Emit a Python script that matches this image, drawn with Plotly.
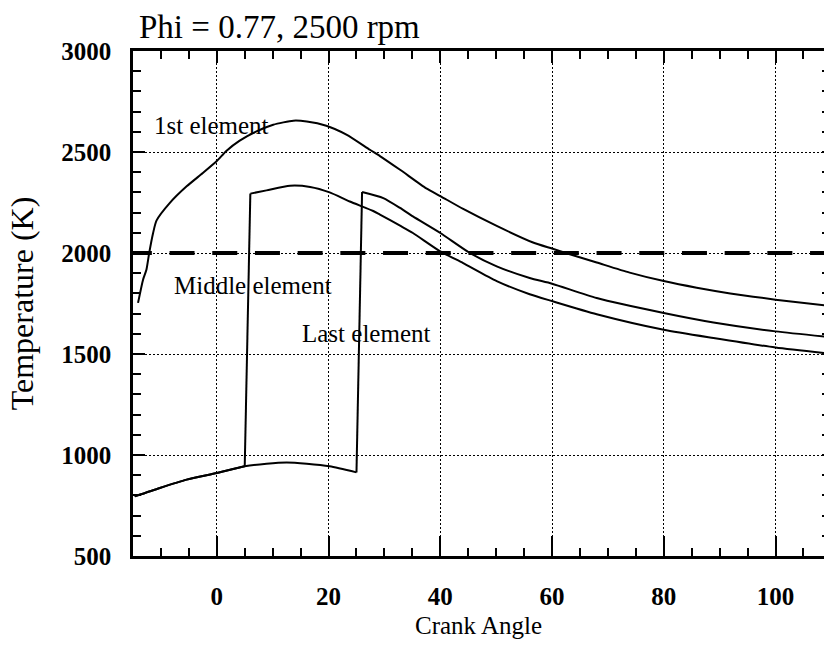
import plotly.graph_objects as go

# ---------------- data ----------------
first_x = [-14.1, -13.2, -12.6, -12.1, -11.4, -10.8, -8.4, -5.4, -2.5, 0, 1.7, 4.1, 7.1, 10.1,
           13.7, 16.1, 19.6, 23.2, 27.4, 29.2, 32.8, 37.5, 40, 44.1, 50.1, 56.6, 60, 62.6, 68,
           73.9, 80, 85.9, 91.9, 100, 108.7]
first_T = [1753, 1868, 1917, 2000, 2099, 2160, 2248, 2330, 2396, 2455, 2505, 2556, 2602, 2635,
           2655, 2651, 2630, 2586, 2511, 2480, 2412, 2320, 2282, 2218, 2134, 2052, 2022, 1999, 1953,
           1903, 1861, 1828, 1800, 1769, 1741]

mid_x = [-14.7, -10.2, -5.4, 0, 5.0, 6.0, 8.9, 13.1, 16.7, 20.2, 23.8, 28.0, 29.2, 32.8, 35.1,
         40, 44.1, 50.1, 56, 60, 68, 80, 88.9, 100, 108.7]
mid_T = [795, 837, 878, 911, 944, 2294, 2310, 2333, 2327, 2300, 2255, 2208, 2190, 2135, 2099,
         2008, 1950, 1861, 1796, 1762, 1697, 1620, 1579, 1532, 1505]

last_x = [-14.7, -10.2, -5.4, 0, 5.0, 8.9, 12.5, 16.1, 20.2, 25.0, 26.0, 29.8, 32.8, 35.1, 40,
          45.3, 50.1, 56, 60, 68, 80, 88.9, 100, 108.7]
last_T = [795, 837, 878, 911, 944, 957, 963, 957, 944, 914, 2302, 2272, 2223, 2181, 2099,
          2000, 1934, 1876, 1848, 1777, 1703, 1656, 1612, 1587]

limit_x = [-16.1, 108.7]
limit_T = [2000, 2000]

labels = ["1st element", "Middle element", "Last element"]
label_x = [-0.9, 6.4, 26.7]
label_T = [2630, 1838, 1600]

x_range = [-15, 108.68]
y_range = [500, 3000]
x_ticks = [0, 20, 40, 60, 80, 100]
y_ticks = [500, 1000, 1500, 2000, 2500, 3000]

title_text = "Phi = 0.77, 2500 rpm"
x_title = "Crank Angle"
y_title = "Temperature (K)"

FONT = "Liberation Serif, Times New Roman, serif"
LW = 2.0

fig = go.Figure()


def add_curve(xs, ys):
    # split at the ignition jumps so the smooth parts stay smooth and corners stay sharp
    segs = []
    start = 0
    for i in range(1, len(ys)):
        if abs(ys[i] - ys[i - 1]) > 500:
            segs.append((start, i))
            start = i
    segs.append((start, len(ys)))
    for a, b in segs:
        fig.add_trace(go.Scatter(x=xs[a:b], y=ys[a:b], mode="lines",
                                 line=dict(color="black", width=LW, shape="spline", smoothing=0.6),
                                 showlegend=False, hoverinfo="skip"))
    for (a, b), (c, d) in zip(segs[:-1], segs[1:]):
        fig.add_trace(go.Scatter(x=[xs[b - 1], xs[c]], y=[ys[b - 1], ys[c]], mode="lines",
                                 line=dict(color="black", width=LW),
                                 showlegend=False, hoverinfo="skip"))


add_curve(first_x, first_T)
add_curve(mid_x, mid_T)
add_curve(last_x, last_T)

fig.add_trace(go.Scatter(x=limit_x, y=limit_T, mode="lines",
                         line=dict(color="black", width=4, dash="25px,17.7px"),
                         showlegend=False, hoverinfo="skip"))

# empty trace to create the mirrored (top/right) axes
fig.add_trace(go.Scatter(x=[], y=[], xaxis="x2", yaxis="y2", showlegend=False))

for t, xx, yy in zip(labels, label_x, label_T):
    fig.add_annotation(x=xx, y=yy, text=t, showarrow=False,
                       font=dict(family=FONT, size=25, color="black"),
                       xanchor="center", yanchor="middle")

grid = dict(showgrid=True, gridcolor="black", gridwidth=1, griddash="2px,2px")

fig.update_layout(
    width=824, height=647,
    margin=dict(l=133, r=0, t=51, b=91),
    plot_bgcolor="white", paper_bgcolor="white",
    font=dict(family=FONT, color="black"),
    title=dict(text=title_text, font=dict(family=FONT, size=33, color="black"),
               xref="container", x=139 / 824, xanchor="left",
               yref="container", y=1 - 15 / 647, yanchor="top"),
    xaxis=dict(range=x_range, tickvals=x_ticks, ticks="inside", ticklen=20, tickwidth=1.5,
               tickcolor="black", showline=True, linecolor="black", linewidth=2.5,
               zeroline=False, tickfont=dict(family=FONT, size=25, color="black", weight="bold"),
               ticklabelstandoff=16,
               minor=dict(dtick=5, tick0=0, ticks="inside", ticklen=8, tickcolor="black",
                          tickwidth=1.5, showgrid=False),
               title=dict(text=x_title, font=dict(family=FONT, size=25, color="black"), standoff=8),
               **grid),
    yaxis=dict(range=y_range, tickvals=y_ticks, ticks="inside", ticklen=12, tickwidth=1.5,
               tickcolor="black", showline=True, linecolor="black", linewidth=2.5,
               zeroline=False, tickfont=dict(family=FONT, size=25, color="black", weight="bold"),
               ticklabelstandoff=14,
               minor=dict(dtick=100, tick0=0, ticks="inside", ticklen=8, tickcolor="black",
                          tickwidth=1.5, showgrid=False),
               title=dict(text=y_title, font=dict(family=FONT, size=32, color="black"), standoff=19),
               **grid),
    xaxis2=dict(range=x_range, overlaying="x", side="top", anchor="y", tickvals=x_ticks,
                ticks="inside", ticklen=12, tickwidth=1.5, tickcolor="black",
                showticklabels=False, showline=True, linecolor="black", linewidth=2.5,
                showgrid=False, zeroline=False,
                minor=dict(dtick=5, tick0=0, ticks="inside", ticklen=8, tickcolor="black",
                           tickwidth=1.5)),
    yaxis2=dict(range=y_range, overlaying="y", side="right", anchor="x", tickvals=y_ticks,
                ticks="inside", ticklen=2, tickwidth=1.5, tickcolor="black",
                showticklabels=False, showline=False, showgrid=False, zeroline=False,
                minor=dict(dtick=100, tick0=0, ticks="inside", ticklen=2, tickcolor="black",
                           tickwidth=1.5)),
)

fig.write_html("out.html")
